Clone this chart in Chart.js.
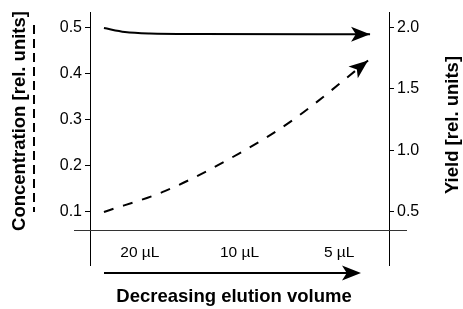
<!DOCTYPE html>
<html>
<head>
<meta charset="utf-8">
<script src="https://cdn.jsdelivr.net/npm/chart.js@4"></script>
<style>
  html, body { margin: 0; padding: 0; background: #fff; }
  canvas { display: block; }
</style>
</head>
<body>
<canvas id="chart" width="463" height="309"></canvas>
<script>
// x positions of the volume ticks (0 = 20 µL, 1 = 10 µL, 2 = 5 µL)
const volumeTicks = [0, 1, 2];
const volumeLabels = ['20 µL', '10 µL', '5 µL'];

// Concentration (dashed, left axis)
const concX = [-0.36, 0.25, 0.99, 1.54, 2.29];
const concY = [0.100, 0.145, 0.226, 0.300, 0.428];

// Yield (solid, right axis)
const yieldX = [-0.36, -0.15, 0.1, 0.6, 2.31];
const yieldY = [1.994, 1.962, 1.950, 1.946, 1.944];

const concTicks = [0.1, 0.2, 0.3, 0.4, 0.5];
const yieldTicks = [0.5, 1.0, 1.5, 2.0];

const FONT = '"Liberation Sans", Arial, Helvetica, sans-serif';

function toPoints(xs, ys) {
  return xs.map((x, i) => ({ x: x, y: ys[i] }));
}

// arrowhead with a small notch, tip at (x, y) pointing along angle
function arrowHead(ctx, x, y, angle, len, half) {
  ctx.save();
  ctx.translate(x, y);
  ctx.rotate(angle);
  ctx.beginPath();
  ctx.moveTo(0, 0);
  ctx.lineTo(-len, -half);
  ctx.lineTo(-len * 0.75, 0);
  ctx.lineTo(-len, half);
  ctx.closePath();
  ctx.fillStyle = '#000';
  ctx.fill();
  ctx.restore();
}

// Рисуем всё, что не входит в стандартные оси: стрелки, подписи, линию оси X
const decorPlugin = {
  id: 'decor',
  afterDraw(chart) {
    const ctx = chart.ctx;
    const x = chart.scales.x;
    const y = chart.scales.y;
    const area = chart.chartArea;
    ctx.save();

    // horizontal baseline across both axes
    const baseY = Math.round(y.getPixelForValue(0.0617)) + 0.5;
    ctx.strokeStyle = '#333';
    ctx.lineWidth = 1;
    ctx.beginPath();
    ctx.moveTo(area.left - 16, baseY);
    ctx.lineTo(area.right + 18, baseY);
    ctx.stroke();

    // volume labels
    ctx.fillStyle = '#000';
    ctx.font = '15.5px ' + FONT;
    ctx.textAlign = 'center';
    ctx.textBaseline = 'middle';
    volumeTicks.forEach((v, i) => {
      ctx.fillText(volumeLabels[i], x.getPixelForValue(v), 253);
    });

    // arrowheads at the end of the two series
    chart.data.datasets.forEach((ds, di) => {
      const meta = chart.getDatasetMeta(di);
      const pts = meta.data;
      const last = pts[pts.length - 1];
      const prev = pts[pts.length - 2];
      const ang = Math.atan2(last.y - prev.y, last.x - prev.x);
      arrowHead(ctx, last.x, last.y, ang, 19, 7.5);
    });

    // bottom arrow
    ctx.strokeStyle = '#000';
    ctx.lineWidth = 2;
    ctx.beginPath();
    ctx.moveTo(104, 273);
    ctx.lineTo(350, 273);
    ctx.stroke();
    arrowHead(ctx, 361, 273, 0, 19, 7.5);

    // axis titles
    ctx.font = 'bold 18.5px ' + FONT;
    ctx.fillText('Decreasing elution volume', 234, 297);

    ctx.save();
    ctx.translate(20, 121);
    ctx.rotate(-Math.PI / 2);
    ctx.fillText('Concentration [rel. units]', 0, 0);
    ctx.restore();

    ctx.save();
    ctx.translate(453, 125);
    ctx.rotate(-Math.PI / 2);
    ctx.fillText('Yield [rel. units]', 0, 0);
    ctx.restore();

    // dashed key next to the concentration title
    ctx.lineWidth = 2;
    ctx.setLineDash([9, 5]);
    ctx.beginPath();
    ctx.moveTo(34, 25);
    ctx.lineTo(34, 212);
    ctx.stroke();

    ctx.restore();
  }
};

new Chart(document.getElementById('chart'), {
  type: 'line',
  data: {
    datasets: [
      {
        label: 'Yield',
        data: toPoints(yieldX, yieldY),
        yAxisID: 'y2',
        borderColor: '#000',
        borderWidth: 2,
        pointRadius: 0,
        cubicInterpolationMode: 'monotone',
        fill: false
      },
      {
        label: 'Concentration',
        data: toPoints(concX, concY),
        yAxisID: 'y',
        borderColor: '#000',
        borderWidth: 2,
        borderDash: [10, 10],
        pointRadius: 0,
        cubicInterpolationMode: 'monotone',
        fill: false
      }
    ]
  },
  options: {
    responsive: false,
    animation: false,
    layout: { padding: { top: 8, bottom: 44, left: 0, right: 0 } },
    plugins: { legend: { display: false }, tooltip: { enabled: false } },
    scales: {
      x: { type: 'linear', min: -0.5, max: 2.5, display: false },
      y: {
        position: 'left',
        min: -0.015,
        max: 0.532,
        afterBuildTicks(s) { s.ticks = concTicks.map(v => ({ value: v })); },
        afterFit(s) { s.width = 90; },
        ticks: {
          callback: v => v.toFixed(1),
          color: '#000',
          padding: 3,
          font: { family: FONT, size: 16 }
        },
        grid: { drawOnChartArea: false, color: '#000', tickLength: 5 },
        border: { color: '#000', width: 1 }
      },
      y2: {
        position: 'right',
        min: 0.069,
        max: 2.12,
        afterBuildTicks(s) { s.ticks = yieldTicks.map(v => ({ value: v })); },
        afterFit(s) { s.width = 74; },
        ticks: {
          callback: v => v.toFixed(1),
          color: '#000',
          padding: 3,
          font: { family: FONT, size: 16 }
        },
        grid: { drawOnChartArea: false, color: '#000', tickLength: 5 },
        border: { color: '#000', width: 1 }
      }
    }
  },
  plugins: [decorPlugin]
});
</script>
</body>
</html>
